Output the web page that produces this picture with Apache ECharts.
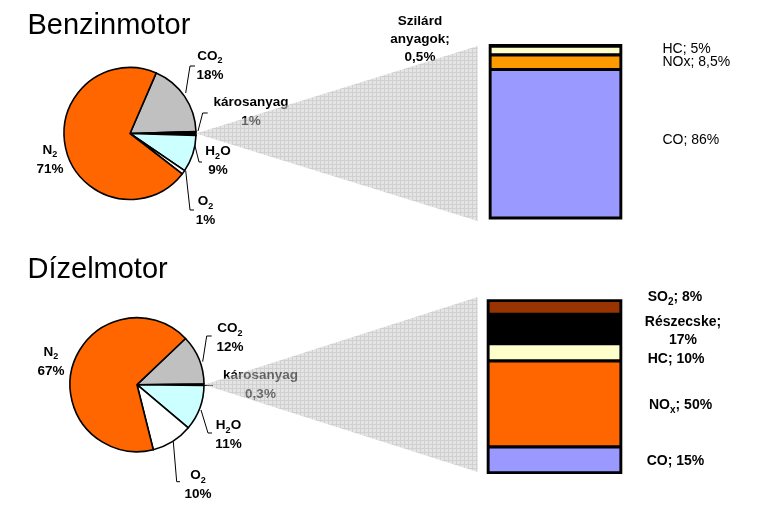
<!DOCTYPE html>
<html><head><meta charset="utf-8">
<script src="https://cdn.jsdelivr.net/npm/echarts@6/dist/echarts.min.js"></script>
<style>html,body{margin:0;padding:0;background:#fff}#c{width:778px;height:507px}</style>
</head><body><div id="c"></div>
<script>
// ---------- Data ----------
const titles = ['Benzinmotor', 'Dízelmotor'];
const benzinPieNames = ['CO₂', 'károsanyag', 'H₂O', 'O₂', 'N₂'];
const benzinPieValues = [18, 1, 9, 1, 71];
const dizelPieNames = ['CO₂', 'károsanyag', 'H₂O', 'O₂', 'N₂'];
const dizelPieValues = [12, 0.3, 11, 10, 67];
const benzinBarNames = ['CO', 'NOx', 'HC', 'Szilárd anyagok'];
const benzinBarValues = [86, 8.5, 5, 0.5];
const dizelBarNames = ['CO', 'NOₓ', 'HC', 'Részecske', 'SO₂'];
const dizelBarValues = [15, 50, 10, 17, 8];

// ---------- Styles / layout ----------
const FONT = '"Liberation Sans", Arial, sans-serif';
const pieColors = ['#c0c0c0', '#000000', '#ccffff', '#ffffff', '#ff6600'];
const benzinBarColors = ['#9999ff', '#ff9900', '#ffffcc', '#000000'];
const dizelBarColors = ['#9999ff', '#ff6600', '#ffffcc', '#000000', '#993300'];
const PIE_FS = 13.5, BAR_FS = 14;

const pieLayout = [
  { center: [130, 133.5], radius: 66, labels: [
    { x: 210, y: 65.5, line: [[185.7, 93], [190, 66], [195, 66]] },
    { x: 251, y: 111.5, line: [[198, 131], [202.7, 113], [207.7, 113]] },
    { x: 218, y: 161, line: [[194, 142], [199, 162], [202, 162]] },
    { x: 205.5, y: 211, line: [[185.7, 170.7], [190, 210], [194, 210]] },
    { x: 50, y: 159.5, line: null }
  ], wedge: { x: 477.7, y1: 46, y2: 221 } },
  { center: [137, 384.7], radius: 67, labels: [
    { x: 230, y: 338, line: [[202.7, 361.7], [206.7, 336], [211.7, 336]] },
    { x: 260.5, y: 385, line: [[205, 385.5], [209, 385.5], [213, 385.5]] },
    { x: 228.5, y: 435, line: [[201, 410], [208, 433], [212, 433]] },
    { x: 198, y: 485, line: [[173.3, 441.7], [176.7, 481.7], [180, 481.7]] },
    { x: 51, y: 361.5, line: null }
  ], wedge: { x: 477.7, y1: 297, y2: 472 } }
];
const gridLayout = [
  { left: 490, top: 45.3, width: 131, height: 172.8 },
  { left: 488, top: 300.5, width: 133, height: 172.3 }
];
const barLabelLayout = [
  [ { x: 662.5, y: 140, align: 'left', bold: false },
    { x: 662.5, y: 62.2, align: 'left', bold: false },
    { x: 662.5, y: 49.5, align: 'left', bold: false },
    { x: 420, y: 39.5, align: 'center', bold: true, wrap: true, fs: PIE_FS } ],
  [ { x: 646.7, y: 461, align: 'left', bold: true },
    { x: 649, y: 405.5, align: 'left', bold: true },
    { x: 647.7, y: 359.5, align: 'left', bold: true },
    { x: 683, y: 331.5, align: 'center', bold: true, wrap: true },
    { x: 647.7, y: 297.5, align: 'left', bold: true } ]
];
const titleLayout = [ { left: 27.5, top: 11 }, { left: 27.5, top: 255 } ];

// ---------- Helpers ----------
const fmt = v => String(v).replace('.', ',') + '%';
const subMap = { '₂': '2', 'ₓ': 'x' };
const toRich = s => s.replace(/[₂ₓ]/g, m => '{s|' + subMap[m] + '}');
const sum = a => a.reduce((p, c) => p + c, 0);

const richSub = (bold, fs) => ({
  s: { fontFamily: FONT, fontSize: Math.round(fs * 0.7), fontWeight: bold ? 'bold' : 'normal', color: '#000',
       lineHeight: 12, verticalAlign: 'bottom' }
});

// grid pattern for the connector wedges
const pc = document.createElement('canvas');
pc.width = 4; pc.height = 4;
const g = pc.getContext('2d');
g.fillStyle = '#cecece'; g.fillRect(0, 0, 4, 4);
g.fillStyle = '#aaaaaa'; g.fillRect(0, 0, 4, 1); g.fillRect(0, 0, 1, 4);

function pieSeries(names, values, L) {
  const total = sum(values);
  const startAngle = (values[0] + values[1] / 2) / total * 360;
  return {
    type: 'pie', center: L.center, radius: L.radius, startAngle, clockwise: true,
    avoidLabelOverlap: false, animation: false, silent: true,
    emphasis: { disabled: true },
    itemStyle: { borderColor: '#000', borderWidth: 1.6 },
    data: names.map((n, i) => ({
      name: n, value: values[i], itemStyle: { color: pieColors[i] },
      labelLine: { show: L.labels[i].line != null }
    })),
    label: {
      show: true, position: 'outside', color: '#000', fontFamily: FONT, fontSize: PIE_FS,
      fontWeight: 'bold', lineHeight: 19, align: 'center',
      formatter: p => toRich(p.name) + '\n' + fmt(p.value),
      rich: richSub(true, PIE_FS)
    },
    labelLine: { show: true, length: 5, length2: 5, lineStyle: { color: '#000', width: 1 } },
    labelLayout: p => {
      const o = L.labels[p.dataIndex];
      const r = { x: o.x, y: o.y, align: 'center', verticalAlign: 'middle' };
      if (o.line) r.labelLinePoints = o.line;
      return r;
    }
  };
}

function barSeries(names, values, colors, gi, labels) {
  return names.map((n, i) => {
    const o = labels[i];
    const fs = o.fs || BAR_FS;
    return {
      type: 'bar', name: n, stack: 's' + gi, xAxisIndex: gi, yAxisIndex: gi,
      barWidth: '100%', animation: false, silent: true,
      data: [values[i]],
      itemStyle: { color: colors[i], borderColor: '#000', borderWidth: 1.6 },
      label: {
        show: true, position: 'right', color: '#000', fontFamily: FONT, fontSize: fs,
        fontWeight: o.bold ? 'bold' : 'normal', lineHeight: o.wrap ? 18 : 19,
        align: o.align,
        formatter: () => toRich(o.wrap ? n.split(' ').join('\n') : n) + ';' + (o.wrap ? '\n' : ' ') + fmt(values[i]),
        rich: richSub(o.bold, fs)
      },
      labelLayout: () => ({ x: o.x, y: o.y, align: o.align, verticalAlign: 'middle' })
    };
  });
}

function wedge(L) {
  const tip = [L.center[0] + L.radius, L.center[1]];
  return {
    type: 'polygon', z: 50, silent: true,
    shape: { points: [tip, [L.wedge.x, L.wedge.y1], [L.wedge.x, L.wedge.y2]] },
    style: { fill: { image: pc, repeat: 'repeat' }, opacity: 0.55 }
  };
}

const chart = echarts.init(document.getElementById('c'), null, { renderer: 'canvas' });
chart.setOption({
  backgroundColor: '#fff',
  animation: false,
  title: titles.map((t, i) => ({
    text: t, left: titleLayout[i].left, top: titleLayout[i].top, padding: 0,
    textStyle: { fontFamily: FONT, fontSize: 29, fontWeight: 'normal', color: '#000', lineHeight: 29 }
  })),
  grid: gridLayout.map(gl => Object.assign({
    containLabel: false, show: true, backgroundColor: '#000', borderColor: '#000', borderWidth: 2.6
  }, gl)),
  xAxis: [
    { type: 'category', gridIndex: 0, data: ['károsanyag'], show: false },
    { type: 'category', gridIndex: 1, data: ['károsanyag'], show: false }
  ],
  yAxis: [
    { type: 'value', gridIndex: 0, min: 0, max: sum(benzinBarValues), show: false },
    { type: 'value', gridIndex: 1, min: 0, max: sum(dizelBarValues), show: false }
  ],
  series: [
    pieSeries(benzinPieNames, benzinPieValues, pieLayout[0]),
    pieSeries(dizelPieNames, dizelPieValues, pieLayout[1]),
    ...barSeries(benzinBarNames, benzinBarValues, benzinBarColors, 0, barLabelLayout[0]),
    ...barSeries(dizelBarNames, dizelBarValues, dizelBarColors, 1, barLabelLayout[1])
  ],
  graphic: [wedge(pieLayout[0]), wedge(pieLayout[1])]
});
</script></body></html>
